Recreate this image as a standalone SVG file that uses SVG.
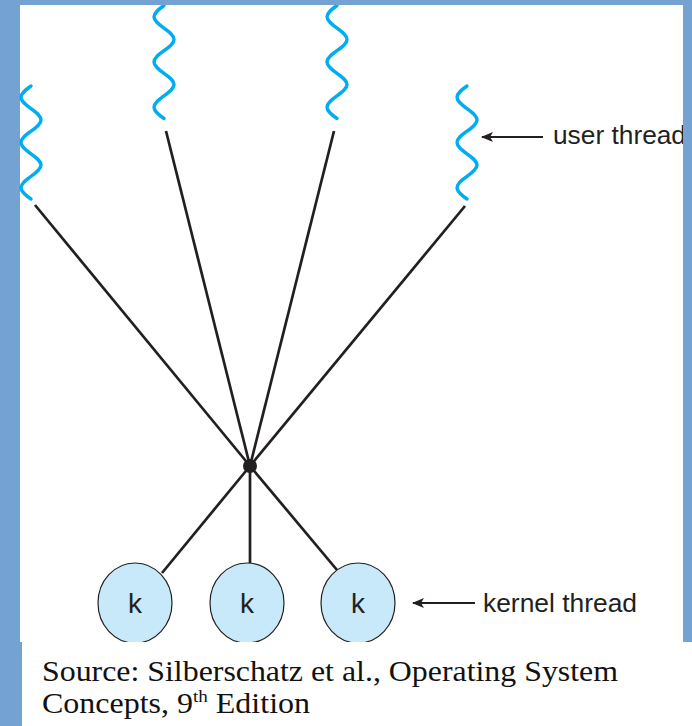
<svg xmlns="http://www.w3.org/2000/svg" width="692" height="726" viewBox="0 0 692 726">
<style>
.wave{fill:none;stroke:#00aeef;stroke-width:3.4;stroke-linecap:round}
.link{stroke:#231f20;stroke-width:2.7;fill:none}
.kern{fill:#c8e9f9;stroke:#231f20;stroke-width:1.2}
.klabel{font-family:"Liberation Sans",Arial,sans-serif;font-size:28px;fill:#231f20;text-anchor:middle}
.label{font-family:"Liberation Sans",Arial,sans-serif;font-size:25px;fill:#231f20}
.ptr{stroke:#231f20;stroke-width:2.2;fill:none;marker-end:url(#ah)}
.src{font-family:"Liberation Serif","Times New Roman",serif;font-size:28.5px;fill:#111}
</style>
<defs>
<marker id="ah" viewBox="0 0 12 10" refX="11" refY="5" markerWidth="12" markerHeight="10" markerUnits="userSpaceOnUse" orient="auto">
<path d="M0,0 L12,5 L0,10 L3,5 Z" fill="#231f20"/>
</marker>
<path id="wv" d="M0,0 c -5.12,3.68 -10,7.21 -10,11.3 s 4.88,7.62 10,11.3 s 10,7.21 10,11.3 s -4.88,7.62 -10,11.3 s -10,7.21 -10,11.3 s 4.88,7.62 10,11.3 s 10,7.21 10,11.3 s -4.88,7.62 -10,11.3 s -10,7.21 -10,11.3 s 4.88,7.62 10,11.3"/>
</defs>
<rect x="0" y="0" width="692" height="726" fill="#73a2d3"/>
<rect x="20" y="5" width="663" height="637" fill="#fff"/>

<g id="connectors">
<line class="link" x1="35" y1="205" x2="250" y2="466"/>
<line class="link" x1="166" y1="131" x2="250" y2="466"/>
<line class="link" x1="334" y1="131" x2="250" y2="466"/>
<line class="link" x1="465" y1="206" x2="250" y2="466"/>
<line class="link" x1="250" y1="466" x2="162" y2="573"/>
<line class="link" x1="250" y1="466" x2="250" y2="563"/>
<line class="link" x1="250" y1="466" x2="337" y2="570"/>
<line class="ptr" x1="543" y1="137" x2="482" y2="137"/>
<line class="ptr" x1="475" y1="603" x2="413" y2="603"/>
</g>

<g id="user1"><use href="#wv" class="wave" x="31" y="86"/></g>
<g id="user2"><use href="#wv" class="wave" x="164" y="5.5"/></g>
<g id="user3"><use href="#wv" class="wave" x="337" y="5.5"/></g>
<g id="user4"><use href="#wv" class="wave" x="467" y="86"/></g>

<g id="hub"><circle cx="250" cy="466" r="7" fill="#231f20"/></g>

<g id="k1"><ellipse class="kern" cx="135" cy="603" rx="37" ry="40"/><text class="klabel" x="135" y="613">k</text></g>
<g id="k2"><ellipse class="kern" cx="247" cy="603" rx="37" ry="40"/><text class="klabel" x="247" y="613">k</text></g>
<g id="k3"><ellipse class="kern" cx="358" cy="603" rx="37" ry="40"/><text class="klabel" x="358" y="613">k</text></g>

<g id="user-label"><text class="label" x="553" y="144" textLength="133" lengthAdjust="spacingAndGlyphs">user thread</text></g>
<g id="kernel-label"><text class="label" x="483" y="612" textLength="154" lengthAdjust="spacingAndGlyphs">kernel thread</text></g>

<rect x="22" y="642" width="670" height="84" fill="#fff"/>
<rect x="683" y="0" width="9" height="642" fill="#73a2d3"/>
<rect x="0" y="0" width="692" height="5" fill="#73a2d3"/>

<g id="source">
<text class="src" x="42" y="681" textLength="576" lengthAdjust="spacingAndGlyphs">Source: Silberschatz et al., Operating System</text>
<text class="src" x="42" y="713" textLength="268" lengthAdjust="spacingAndGlyphs">Concepts, 9<tspan font-size="17" dy="-11">th</tspan><tspan dy="11"> Edition</tspan></text>
</g>
</svg>
